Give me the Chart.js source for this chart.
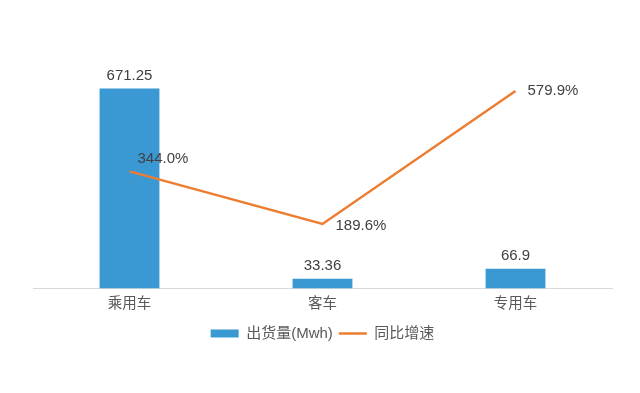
<!DOCTYPE html>
<html><head><meta charset="utf-8">
<script src="https://cdn.jsdelivr.net/npm/chart.js@4.4.0/dist/chart.umd.min.js"></script>
<style>html,body{margin:0;padding:0;background:#fff}#wrap{width:640px;height:393px}</style>
</head><body><div id="wrap"><canvas id="c" width="640" height="393"></canvas></div>
<script>
const categories = ['乘用车', '客车', '专用车'];
const shipments = [671.25, 33.36, 66.9];
const growth = [344.0, 189.6, 579.9];
const shipmentLabels = ['671.25', '33.36', '66.9'];
const growthLabels = ['344.0%', '189.6%', '579.9%'];
const FONT = '"Liberation Sans", Arial, "Noto Sans CJK SC", sans-serif';
const BLUE = '#3A98D2';
const ORANGE = '#ED7D31';

const labelPlugin = {
  id: 'vals',
  afterDatasetsDraw(chart) {
    const ctx = chart.ctx;
    ctx.save();
    ctx.font = '15px ' + FONT;
    ctx.fillStyle = '#404040';
    ctx.textAlign = 'center';
    ctx.textBaseline = 'bottom';
    chart.getDatasetMeta(0).data.forEach((el, i) => {
      ctx.fillText(shipmentLabels[i], el.x, el.y - 5);
    });
    ctx.textAlign = 'left';
    ctx.textBaseline = 'middle';
    const offs = [[8, -12], [13, 2], [12, 0]];
    chart.getDatasetMeta(1).data.forEach((el, i) => {
      ctx.fillText(growthLabels[i], el.x + offs[i][0], el.y + offs[i][1]);
    });
    ctx.restore();
  }
};

new Chart(document.getElementById('c'), {
  data: {
    labels: categories,
    datasets: [
      { type: 'bar', label: '出货量(Mwh)', data: shipments, backgroundColor: BLUE, yAxisID: 'y', barPercentage: 0.31, categoryPercentage: 1, order: 2 },
      { type: 'line', label: '同比增速', data: growth, borderColor: ORANGE, backgroundColor: ORANGE, borderWidth: 2.5, pointRadius: 0, tension: 0, yAxisID: 'y1', order: 1 }
    ]
  },
  options: {
    responsive: false,
    animation: false,
    layout: { padding: { left: 33, right: 28, top: 50, bottom: 42 } },
    plugins: {
      tooltip: { enabled: false },
      legend: {
        position: 'bottom',
        labels: {
          font: { family: FONT, size: 15 },
          color: '#595959',
          usePointStyle: true,
          pointStyleWidth: 28,
          boxHeight: 8,
          padding: 6,
          generateLabels(chart) {
            return [
              { text: '出货量(Mwh)', datasetIndex: 0, pointStyle: 'rect', fillStyle: BLUE, strokeStyle: BLUE, lineWidth: 0, fontColor: '#595959', hidden: false },
              { text: '同比增速', datasetIndex: 1, pointStyle: 'line', fillStyle: ORANGE, strokeStyle: ORANGE, lineWidth: 2.5, fontColor: '#595959', hidden: false }
            ];
          }
        }
      }
    },
    scales: {
      x: {
        grid: { display: false, drawTicks: false },
        border: { display: true, color: '#d9d9d9', width: 1 },
        ticks: { font: { family: FONT, size: 14.5 }, color: '#595959', padding: 7 }
      },
      y: { display: false, min: 0, max: 800 },
      y1: { display: false, min: 0, max: 700, position: 'right' }
    }
  },
  plugins: [labelPlugin]
});
</script></body></html>
